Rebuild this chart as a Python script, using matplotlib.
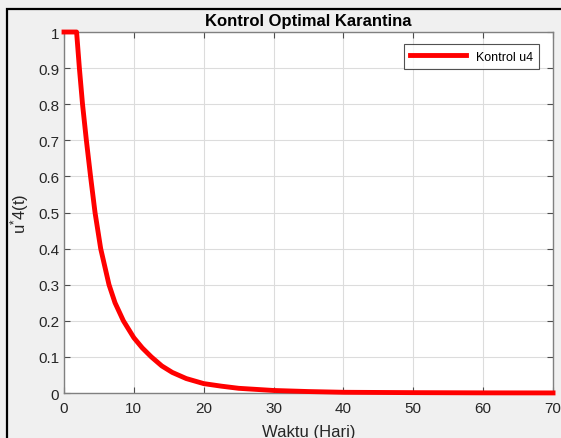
import numpy as np
import matplotlib.pyplot as plt
from matplotlib.patches import Rectangle

# values
waktu = [0, 1.0, 1.8, 2.2, 2.65, 3.2, 3.8, 4.44, 5.25, 6.44, 7.3, 8.5, 9.2,
         10, 11.2, 12.5, 14, 15.5, 17.5, 20, 22.5, 25, 27.5, 30, 35, 40, 50,
         60, 70]
u4 = [1, 1, 1, 0.9, 0.8, 0.7, 0.6, 0.5, 0.4, 0.3, 0.25, 0.2, 0.178,
      0.153, 0.125, 0.1, 0.075, 0.057, 0.04, 0.026, 0.019, 0.013, 0.01,
      0.007, 0.004, 0.002, 0.001, 0.0004, 0.0002]

xticks = np.arange(0, 71, 10)
yticks = np.round(np.arange(0, 1.01, 0.1), 1)
ytick_labels = ['0'] + ['%.1f' % v for v in yticks[1:-1]] + ['1']

plt.rcParams['font.family'] = ['Liberation Sans', 'DejaVu Sans']

fig = plt.figure(figsize=(5.61, 4.39), dpi=100, facecolor='#f0f0f0')
ax = fig.add_axes([0.1141, 0.1025, 0.8717, 0.8223])
ax.set_facecolor('white')

ax.plot(waktu, u4, color='#ff0000', lw=3.5, label='Kontrol u4', clip_on=False,
        solid_joinstyle='round', zorder=3)

ax.set_xlim(0, 70)
ax.set_ylim(0, 1)
ax.set_xticks(xticks)
ax.set_yticks(yticks)
ax.set_yticklabels(ytick_labels)
ax.grid(True, color='#dcdcdc', lw=0.8)
ax.tick_params(direction='in', top=True, right=True, length=4, width=0.8,
               colors='#4d4d4d', labelsize=11, labelcolor='#262626')
ax.tick_params(axis='x', pad=6)
for s in ax.spines.values():
    s.set_color('#808080')
    s.set_linewidth(1.0)

ax.set_title('Kontrol Optimal Karantina', fontsize=12, fontweight='bold', pad=5)
ax.set_xlabel('Waktu (Hari)', fontsize=12, color='#262626', labelpad=6)
ax.set_ylabel(r'$\mathregular{u^{*}4(t)}$', fontsize=12, color='#262626', labelpad=5)

leg = ax.legend(loc='upper right', fontsize=9, fancybox=False, edgecolor='#262626',
                handlelength=4.5, borderpad=0.5, bbox_to_anchor=(0.985, 0.983))
leg.get_frame().set_linewidth(0.8)

# black screenshot frame along the top and left edge
fig.patches.append(Rectangle((7 / 561, -0.05), 1.1, (429 / 439) + 0.05,
                             transform=fig.transFigure, fill=False,
                             edgecolor='black', lw=1.6, clip_on=False))

fig.savefig('out.png', dpi=100, facecolor=fig.get_facecolor())
